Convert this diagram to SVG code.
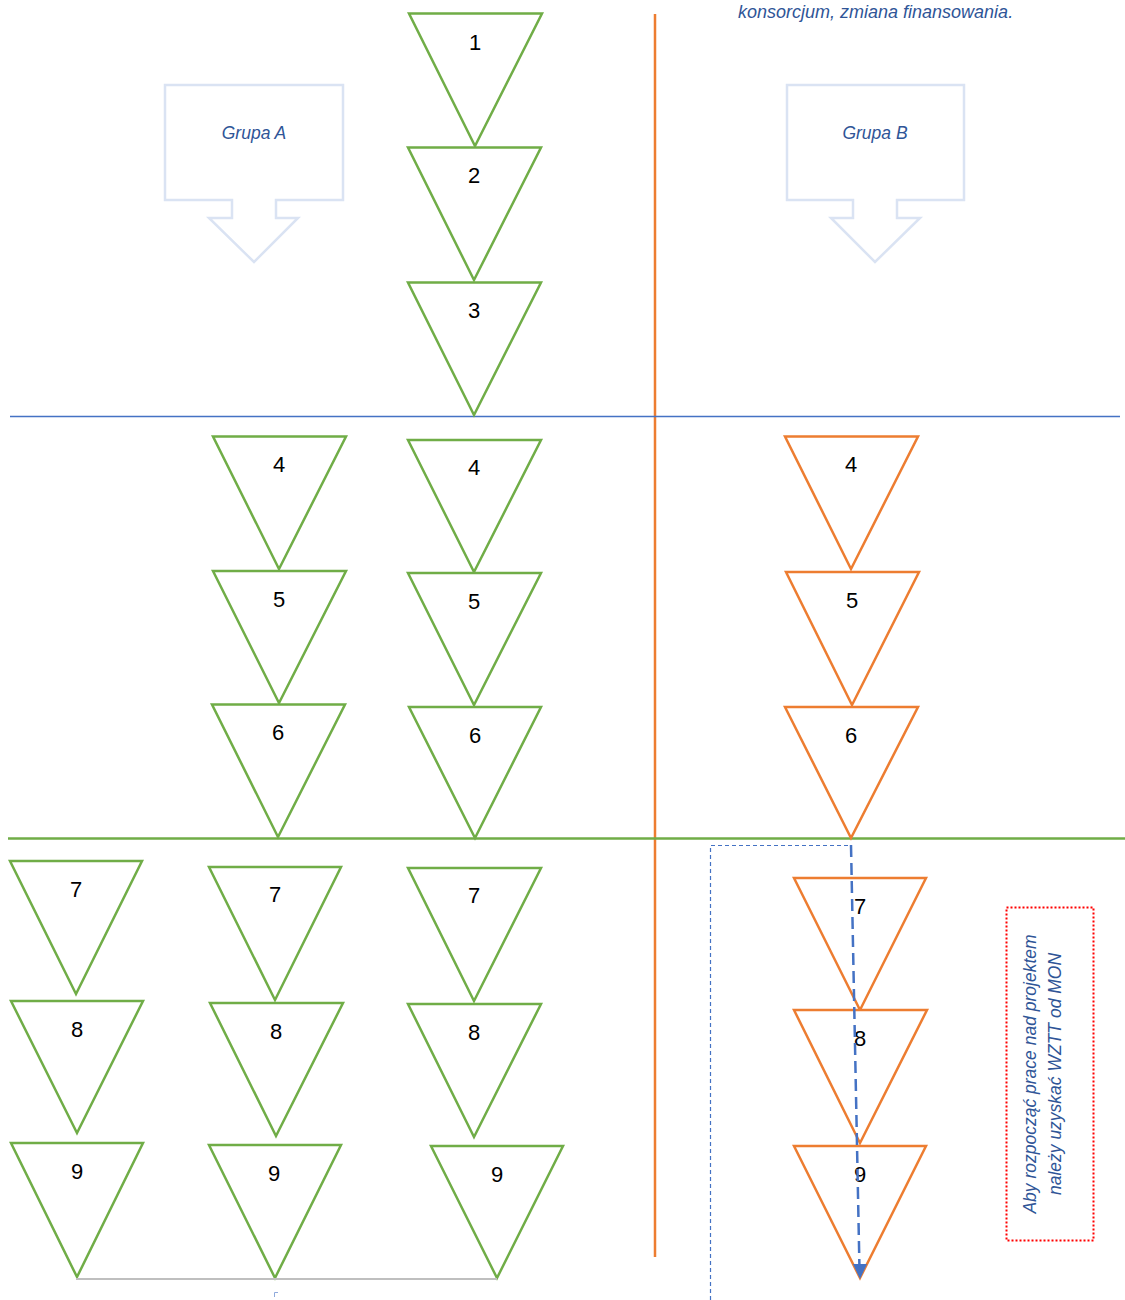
<svg xmlns="http://www.w3.org/2000/svg" width="1125" height="1300" viewBox="0 0 1125 1300">
<style>
.g{fill:#fff;stroke:#70ad47;stroke-width:2.5;stroke-linejoin:miter}
.o{fill:#fff;stroke:#ed7d31;stroke-width:2.5}
.n{font-family:"Liberation Sans",Arial,sans-serif;font-size:22px;fill:#000;text-anchor:middle}
.it{font-family:"Liberation Sans",Arial,sans-serif;font-style:italic;fill:#2f5597}
.call{fill:#fff;stroke:#dae3f3;stroke-width:2.5}
</style>
<defs>
<marker id="ah" markerWidth="8" markerHeight="8" refX="6" refY="4" orient="auto" markerUnits="userSpaceOnUse" viewBox="0 0 8 8">
<path d="M0,0 L8,4 L0,8 Z" fill="#4472c4"/>
</marker>
</defs>
<rect width="1125" height="1300" fill="#fff"/>
<text class="it" x="738" y="18" font-size="18">konsorcjum, zmiana finansowania.</text>

<g id="lines">
<line x1="655" y1="14" x2="655" y2="1257" stroke="#ed7d31" stroke-width="2.5"/>
<line x1="10" y1="416.5" x2="1120" y2="416.5" stroke="#4472c4" stroke-width="1.5"/>
<line x1="8" y1="838.5" x2="1125" y2="838.5" stroke="#70ad47" stroke-width="2.5"/>
</g>

<g id="grupaA">
<path class="call" d="M165,85 H343 V200 H276 V218 H298 L254,262 L209,218 H232 V200 H165 Z"/>
<text class="it" x="254" y="139" font-size="17.5" text-anchor="middle">Grupa A</text>
</g>
<g id="grupaB">
<path class="call" d="M787,85 H964 V200 H897 V218 H920 L875,262 L831,218 H853 V200 H787 Z"/>
<text class="it" x="875" y="139" font-size="17.5" text-anchor="middle">Grupa B</text>
</g>

<g id="c1"><polygon class="g" points="409,13.5 542,13.5 475,146"/><text class="n" x="475" y="50">1</text></g>
<g id="c2"><polygon class="g" points="408,147.5 541,147.5 474,280"/><text class="n" x="474" y="183">2</text></g>
<g id="c3"><polygon class="g" points="408,282.5 541,282.5 474,415"/><text class="n" x="474" y="318">3</text></g>

<g id="a4"><polygon class="g" points="213,436.5 346,436.5 279,569"/><text class="n" x="279" y="472">4</text></g>
<g id="a5"><polygon class="g" points="213,571 346,571 279,703"/><text class="n" x="279" y="607">5</text></g>
<g id="a6"><polygon class="g" points="212,704.5 345,704.5 278,837"/><text class="n" x="278" y="740">6</text></g>

<g id="b4"><polygon class="g" points="408,440 541,440 474,572"/><text class="n" x="474" y="475">4</text></g>
<g id="b5"><polygon class="g" points="408,573 541,573 474,705"/><text class="n" x="474" y="609">5</text></g>
<g id="b6"><polygon class="g" points="409,707 541,707 475,838"/><text class="n" x="475" y="743">6</text></g>

<g id="r4"><polygon class="o" points="785,436.5 918,436.5 851,569"/><text class="n" x="851" y="472">4</text></g>
<g id="r5"><polygon class="o" points="786,572 919,572 852,705"/><text class="n" x="852" y="608">5</text></g>
<g id="r6"><polygon class="o" points="785,707 918,707 851,838"/><text class="n" x="851" y="743">6</text></g>

<g id="d7"><polygon class="g" points="10,861 142,861 76,994"/><text class="n" x="76" y="897">7</text></g>
<g id="d8"><polygon class="g" points="11,1001 143,1001 77,1133"/><text class="n" x="77" y="1037">8</text></g>
<g id="d9"><polygon class="g" points="11,1143 143,1143 77,1277"/><text class="n" x="77" y="1179">9</text></g>

<g id="e7"><polygon class="g" points="209,867 341,867 275,1000"/><text class="n" x="275" y="902">7</text></g>
<g id="e8"><polygon class="g" points="210,1003 343,1003 276,1136"/><text class="n" x="276" y="1039">8</text></g>
<g id="e9"><polygon class="g" points="209,1145 341,1145 275,1278"/><text class="n" x="274" y="1181">9</text></g>

<g id="f7"><polygon class="g" points="408,868 541,868 474,1001"/><text class="n" x="474" y="903">7</text></g>
<g id="f8"><polygon class="g" points="408,1004 541,1004 474,1137"/><text class="n" x="474" y="1040">8</text></g>
<g id="f9"><polygon class="g" points="431,1146 563,1146 497,1278"/><text class="n" x="497" y="1182">9</text></g>

<g id="o7"><polygon class="o" points="794,878 926,878 860,1010"/><text class="n" x="860" y="914">7</text></g>
<g id="o8"><polygon class="o" points="794,1010 927,1010 860,1143"/><text class="n" x="860" y="1046">8</text></g>
<g id="o9"><polygon class="o" points="794,1146 926,1146 860,1278"/><text class="n" x="860" y="1182">9</text></g>

<g id="note">
<rect x="1006.5" y="907.5" width="87" height="333" fill="none" stroke="#ff0000" stroke-width="2" stroke-dasharray="2 2"/>
<text class="it" font-size="17.5" text-anchor="middle" transform="translate(1036,1074) rotate(-90)">Aby rozpocząć prace nad projektem</text>
<text class="it" font-size="17.5" text-anchor="middle" transform="translate(1061,1074) rotate(-90)">należy uzyskać WZTT od MON</text>
</g>

<g id="connectors">
<line x1="76" y1="1279" x2="497" y2="1279" stroke="#bfbfbf" stroke-width="2"/>
<path d="M274.5,1297 V1292.5 H278" fill="none" stroke="#8faadc" stroke-width="1"/>
<path d="M710.5,1300 V845.5 H851" fill="none" stroke="#4472c4" stroke-width="1.2" stroke-dasharray="4 3"/>
<line x1="851" y1="845" x2="859.5" y2="1270" stroke="#4472c4" stroke-width="2.5" stroke-dasharray="12 6" marker-end="url(#ah)"/>
<polygon points="853,1264 867,1264 860,1279" fill="#4472c4"/>
</g>
</svg>
